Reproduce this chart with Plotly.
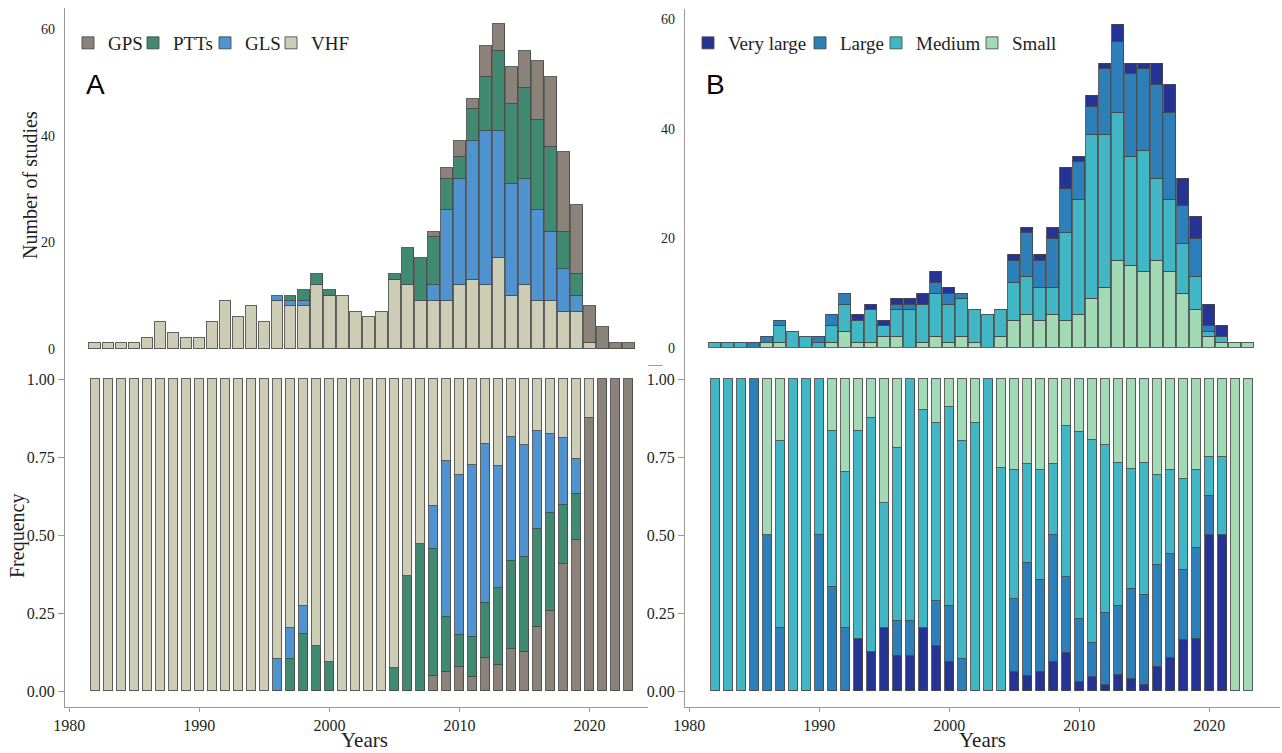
import plotly.graph_objects as go

# ---------------- data ----------------
years = list(range(1982, 2024))

# Panel A: number of studies per year by tracking device
vhf = [1, 1, 1, 1, 2, 5, 3, 2, 2, 5,
       9, 6, 8, 5, 9, 8, 8, 12, 10, 10,
       7, 6, 7, 13, 12, 9, 9, 9, 12, 13,
       12, 17, 10, 12, 9, 9, 7, 7, 1, 0,
       0, 0]
gls = [0, 0, 0, 0, 0, 0, 0, 0, 0, 0,
       0, 0, 0, 0, 1, 1, 1, 0, 0, 0,
       0, 0, 0, 0, 0, 0, 3, 17, 20, 26,
       29, 24, 21, 20, 17, 13, 8, 3, 0, 0,
       0, 0]
ptt = [0, 0, 0, 0, 0, 0, 0, 0, 0, 0,
       0, 0, 0, 0, 0, 1, 2, 2, 1, 0,
       0, 0, 0, 1, 7, 8, 9, 6, 4, 6,
       10, 15, 15, 17, 17, 16, 7, 4, 0, 0,
       0, 0]
gps = [0, 0, 0, 0, 0, 0, 0, 0, 0, 0,
       0, 0, 0, 0, 0, 0, 0, 0, 0, 0,
       0, 0, 0, 0, 0, 0, 1, 2, 3, 2,
       6, 5, 7, 7, 11, 13, 15, 13, 7, 4,
       1, 1]

# Panel B: number of studies per year by body size class
very_large = [0, 0, 0, 0, 0, 0, 0, 0, 0, 0,
              0, 1, 1, 1, 1, 1, 2, 2, 1, 0,
              0, 0, 0, 1, 1, 1, 2, 4, 1, 2,
              1, 3, 2, 1, 4, 5, 5, 4, 4, 2,
              0, 0]
large = [0, 0, 0, 1, 1, 1, 0, 0, 1, 2,
         2, 0, 0, 0, 1, 1, 0, 2, 2, 1,
         0, 0, 0, 4, 8, 5, 9, 8, 7, 5,
         12, 13, 15, 15, 17, 16, 7, 7, 1, 0,
         0, 0]
medium = [1, 1, 1, 0, 0, 3, 3, 2, 1, 3,
          5, 4, 6, 2, 5, 7, 7, 8, 7, 7,
          6, 6, 5, 7, 7, 6, 5, 16, 21, 30,
          28, 27, 20, 22, 15, 13, 9, 6, 1, 1,
          0, 0]
small = [0, 0, 0, 0, 1, 1, 0, 0, 0, 1,
         3, 1, 1, 2, 2, 0, 1, 2, 1, 2,
         1, 0, 2, 5, 6, 5, 6, 5, 6, 9,
         11, 16, 15, 14, 16, 14, 10, 7, 2, 1,
         1, 1]

names_a = ["VHF", "GLS", "PTTs", "GPS"]          # count stacking: bottom -> top
colors_a = ["#cdcdb5", "#4f94d0", "#3f8a70", "#8b8379"]
names_b = ["Small", "Medium", "Large", "Very large"]
colors_b = ["#a1dab4", "#41b6c4", "#2c7fb8", "#253494"]

x_ticks = [1980, 1990, 2000, 2010, 2020]
count_ticks = [0, 20, 40, 60]
freq_ticks = [0, 0.25, 0.5, 0.75, 1.0]
freq_labels = ["0.00", "0.25", "0.50", "0.75", "1.00"]

# ---------------- layout helpers ----------------
W, H = 1282, 753
SERIF = "Liberation Serif"
SANS = "Liberation Sans"
LC = "#9a9a9a"
OUT = "rgba(70,70,70,0.85)"
TXT = "#1e1e1e"


def fx(p):
    return p / W


def fy(p):
    return 1 - p / H


def nz(vals):
    return [v if v else None for v in vals]


fig = go.Figure()


def add_panel(series, names, colors, top_ax, bot_ax, legend_ids):
    totals = [sum(s[i] for s in series) for i in range(len(years))]
    # counts: first series at the bottom of the stack
    for s, name, col, lg in zip(series, names, colors, legend_ids):
        fig.add_trace(go.Bar(
            x=years, y=nz(s), name=name, width=0.9,
            marker=dict(color=col, line=dict(color=OUT, width=1)),
            xaxis=top_ax[0], yaxis=top_ax[1], legend=lg, showlegend=True))
    # frequencies: stacked in the opposite order
    for s, name, col in reversed(list(zip(series, names, colors))):
        frac = [(s[i] / totals[i]) if (totals[i] and s[i]) else None
                for i in range(len(years))]
        fig.add_trace(go.Bar(
            x=years, y=frac, name=name, width=0.7,
            marker=dict(color=col, line=dict(color=OUT, width=1)),
            xaxis=bot_ax[0], yaxis=bot_ax[1], showlegend=False))


add_panel([vhf, gls, ptt, gps], names_a, colors_a, ("x", "y"), ("x2", "y2"),
          ["legend4", "legend3", "legend2", "legend"])
add_panel([small, medium, large, very_large], names_b, colors_b, ("x3", "y3"), ("x4", "y4"),
          ["legend8", "legend7", "legend6", "legend5"])

axis_common = dict(showline=True, linecolor=LC, linewidth=1.2, showgrid=False,
                   zeroline=False, tickcolor=LC, automargin=False,
                   tickfont=dict(family=SERIF, size=16, color=TXT))

top_x = dict(axis_common, showticklabels=False, ticks="")
top_y = dict(axis_common, tickvals=count_ticks, ticks="", ticklabelstandoff=6,
             tickfont=dict(family=SERIF, size=14, color=TXT))
bot_x = dict(axis_common, tickvals=x_ticks, ticks="outside", ticklen=4)
bot_y = dict(axis_common, tickvals=freq_ticks, ticktext=freq_labels,
             ticks="outside", ticklen=6)

legend_common = dict(orientation="h", xanchor="left", yanchor="middle",
                     bgcolor="rgba(0,0,0,0)", itemwidth=30,
                     font=dict(family=SERIF, size=19, color=TXT),
                     y=fy(43))
# swatch centres of the legend entries (GPS, PTTs, GLS, VHF, Very large, Large, Medium, Small)
legend_swatch_centres = [88, 153, 225, 291, 708, 820, 896, 992]
legends = {}
for i, xs in enumerate(legend_swatch_centres):
    key = "legend" if i == 0 else f"legend{i + 1}"
    legends[key] = dict(legend_common, x=fx(xs - 20))

fig.update_layout(
    width=W, height=H,
    margin=dict(l=0, r=0, t=0, b=0, autoexpand=False),
    paper_bgcolor="white", plot_bgcolor="white",
    barmode="stack", bargap=0,
    xaxis=dict(top_x, domain=[fx(65), fx(663)], range=[1979.67, 2025.6], anchor="y"),
    yaxis=dict(top_y, domain=[fy(365), fy(8)], range=[-3.05, 64.05], anchor="x"),
    xaxis2=dict(bot_x, domain=[fx(65), fx(648)], range=[1979.67, 2024.5], anchor="y2"),
    yaxis2=dict(bot_y, domain=[fy(706.6), fy(363.4)], range=[-0.05, 1.05], anchor="x2"),
    xaxis3=dict(top_x, domain=[fx(685), fx(1280)], range=[1979.67, 2025.45], anchor="y3"),
    yaxis3=dict(top_y, domain=[fy(364), fy(8.5)], range=[-2.95, 61.95], anchor="x3"),
    xaxis4=dict(bot_x, domain=[fx(685), fx(1280)], range=[1979.67, 2025.45], anchor="y4"),
    yaxis4=dict(bot_y, domain=[fy(706.6), fy(363.4)], range=[-0.05, 1.05], anchor="x4"),
    **legends,
)

annos = [
    dict(text="Number of studies", x=fx(30), y=fy(185), textangle=-90,
         font=dict(family=SERIF, size=20, color=TXT)),
    dict(text="Frequency", x=fx(17), y=fy(536), textangle=-90,
         font=dict(family=SERIF, size=20, color=TXT)),
    dict(text="Years", x=fx(364), y=fy(740),
         font=dict(family=SERIF, size=21, color=TXT)),
    dict(text="Years", x=fx(982), y=fy(740),
         font=dict(family=SERIF, size=21, color=TXT)),
    dict(text="A", x=fx(95), y=fy(84), font=dict(family=SANS, size=28, color="black")),
    dict(text="B", x=fx(715.5), y=fy(84.5), font=dict(family=SANS, size=28, color="black")),
]
for a in annos:
    fig.add_annotation(xref="paper", yref="paper", showarrow=False,
                       xanchor="center", yanchor="middle", **a)

fig.write_html(
    "out.html",
    config={"displayModeBar": False},
    post_script="document.body.style.margin='0px';document.body.style.padding='0px';"
                "document.documentElement.style.overflow='hidden';",
)
